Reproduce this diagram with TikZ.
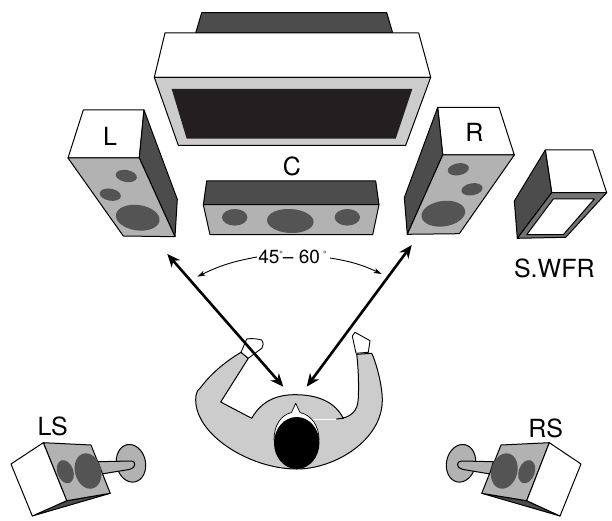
\documentclass[tikz,border=0pt]{standalone}
\usepackage{fontspec}
\setmainfont{TeX Gyre Heros}
\usetikzlibrary{arrows.meta}
\definecolor{dk}{gray}{0.30}
\definecolor{spk}{gray}{0.70}
\definecolor{cone}{gray}{0.33}
\definecolor{pale}{gray}{0.80}
\definecolor{scr}{HTML}{231F20}
\tikzset{
 outl/.style={draw=black,line width=1pt,line join=round},
 whiteface/.style={outl,fill=white},
 darkface/.style={outl,fill=dk},
 grayface/.style={outl,fill=spk},
 conefill/.style={fill=cone,draw=none},
 lab/.style={font=\fontsize{25}{25}\selectfont,inner sep=0pt},
 biglink/.style={line width=2.6pt,{Stealth[length=13pt,width=11pt,inset=4pt]}-{Stealth[length=13pt,width=11pt,inset=4pt]}},
 thinlink/.style={line width=0.9pt,-{Stealth[length=8pt,width=5pt,inset=2pt]}}
}
\begin{document}
\begin{tikzpicture}[x=1pt,y=-1pt]
\useasboundingbox (0,0) rectangle (612,521);
% TV
\draw[darkface] (201.7,12.7) -- (386.7,12.7) -- (392.7,33) -- (195.7,33) -- cycle;
\draw[whiteface] (165,33) -- (418.7,33) -- (430.7,77.3) -- (154.3,77.3) -- cycle;
\draw[outl,fill=pale] (154.3,77.3) -- (430.7,77.3) -- (405.7,145.3) -- (178.3,145.3) -- cycle;
\fill[scr] (171.7,89) -- (412.3,89) -- (395.7,138.7) -- (186.7,138.7) -- cycle;
% L
\draw[whiteface] (83.3,110) -- (144,110) -- (139.3,158) -- (68,158) -- cycle;
\draw[darkface] (144,110) -- (177.3,199.3) -- (175,236.7) -- (139.3,158) -- cycle;
\draw[grayface] (68,158) -- (139.3,158) -- (175,236.7) -- (123.3,236) -- cycle;
\fill[conefill,rotate around={-10:(126.3,176)}] (126.3,176) ellipse [x radius=10.7,y radius=6];
\fill[conefill,rotate around={-10:(110.3,194.7)}] (110.3,194.7) ellipse [x radius=10.7,y radius=6];
\fill[conefill,rotate around={-8:(137.7,217.7)}] (137.7,217.7) ellipse [x radius=22,y radius=12.7];
\node[lab] (labL) at (110,136.5) {L};
% C
\draw[darkface] (206.7,181) -- (375.7,181) -- (379,204.7) -- (203.3,204.7) -- cycle;
\draw[grayface] (203.3,204.7) -- (379,204.7) -- (372.7,234.7) -- (210,234.7) -- cycle;
\fill[conefill] (234.7,217.3) ellipse [x radius=12.7,y radius=8.3];
\fill[conefill,rotate around={-3:(290.3,221)}] (290.3,221) ellipse [x radius=23.3,y radius=12];
\fill[conefill] (347.3,217.3) ellipse [x radius=12.7,y radius=8.3];
\node[lab] (labC) at (292,166.5) {C};
% R
\draw[whiteface] (437.7,107.3) -- (499,107.3) -- (514.3,155) -- (442.7,155) -- cycle;
\draw[darkface] (437.7,107.3) -- (442.7,155) -- (407.3,234.3) -- (404.3,197.7) -- cycle;
\draw[grayface] (442.7,155) -- (514.3,155) -- (459.3,233.7) -- (407.3,234.3) -- cycle;
\fill[conefill,rotate around={10:(458.3,169.3)}] (458.3,169.3) ellipse [x radius=10.7,y radius=6];
\fill[conefill,rotate around={10:(472,189.3)}] (472,189.3) ellipse [x radius=10.7,y radius=6];
\fill[conefill,rotate around={8:(443.3,213.7)}] (443.3,213.7) ellipse [x radius=22,y radius=12.7];
\node[lab] (labR) at (474.3,132) {R};
% S.WFR
\draw[whiteface] (545.3,150) -- (592.7,150) -- (606.7,192.7) -- (551.7,192.7) -- cycle;
\draw[darkface] (545.3,150) -- (551.7,192.7) -- (517.3,238.3) -- (514.3,201) -- cycle;
\draw[outl,fill=black!55] (551.7,192.7) -- (606.7,192.7) -- (565.7,237.3) -- (517.3,238.3) -- cycle;
\draw[outl,fill=white] (553.3,199) -- (594.3,199) -- (563.3,234.7) -- (526.7,234.7) -- cycle;
\node[lab] (labS) at (554.3,268.3) {S.WFR};
% Person
\draw[outl,fill=pale] (248.3,358.3) -- (220.7,402) -- (251.7,418.3)
  .. controls (262,400) and (278,394.7) .. (295,394.7)
  .. controls (318,394.7) and (335,402) .. (343.3,418.3)
  -- (336.7,419)
  .. controls (350,418) and (358,412) .. (358.3,398)
  .. controls (359,380) and (358,365) .. (356.7,354.3)
  -- (371.7,353.3)
  .. controls (376,362) and (382.3,385) .. (382.3,400)
  .. controls (382.3,440) and (335,469) .. (296.7,469)
  .. controls (250,469) and (195.7,435) .. (195.7,400)
  .. controls (195.7,392) and (198,390) .. (200,388.3)
  .. controls (212,372) and (228,360) .. (241,352.3)
  -- cycle;
\draw[white,line width=1pt] (313,419) -- (336,419);
\draw[whiteface,line width=0.9pt] (241,352.3) -- (246.7,339) .. controls (252,338) and (258,339) .. (261.7,340) .. controls (264,343) and (263,346) .. (262,348) -- (248.3,358.3) -- cycle;
\draw[whiteface,line width=0.9pt] (356,353.3) -- (352.3,336) -- (355,332.3) -- (370,340.7) -- (368.3,352.3) -- cycle;
\draw[whiteface,line width=0.7pt] (274,440) .. controls (274,425) and (281,415) .. (291.5,412.5) -- (295.7,403.3) -- (300,412.5) .. controls (311,415) and (319,425) .. (319,440) -- cycle;
\fill[black] (296.7,443) ellipse [x radius=22.7,y radius=26];
% Arrows
\coordinate (lsEnd) at (167.3,254);
\coordinate (lpEnd) at (283.3,386.7);
\coordinate (rsEnd) at (411.7,245);
\coordinate (rpEnd) at (306.7,386.7);
\draw[biglink] (lsEnd) -- (lpEnd);
\draw[biglink] (rsEnd) -- (rpEnd);
% Angle
\node[inner sep=0pt,font=\fontsize{19}{19}\selectfont] (angle) at (292.5,257) {45\raisebox{6pt}{\fontsize{9}{9}\selectfont°}– 60\,\raisebox{6pt}{\fontsize{9}{9}\selectfont°}};
\coordinate (angL) at (197.3,276.7);
\coordinate (angR) at (381.7,274);
\draw[thinlink] (angle.west) ++(-1,0) to[bend right=8] (angL);
\draw[thinlink] (angle.east) ++(3,1) to[bend left=8] (angR);
% LS
\draw[outl,fill=spk,rotate around={12:(131,463.3)}] (131,463.3) ellipse [x radius=14.5,y radius=19];
\draw[outl,fill=spk] (98.3,461.7) -- (131.7,461) .. controls (136,461) and (136,468) .. (130,469.3) -- (101.7,474) -- cycle;
\draw[darkface] (32.3,516) -- (66.7,500.7) -- (110.3,493.3) -- cycle;
\draw[grayface] (43.3,442.7) -- (91,445) -- (110.3,493.3) -- (66.7,500.7) -- cycle;
\draw[whiteface] (43.3,442.7) -- (11,464) -- (32.3,516) -- (66.7,500.7) -- cycle;
\fill[conefill,rotate around={20:(65.3,471.7)}] (65.3,471.7) ellipse [x radius=8,y radius=12];
\fill[conefill,rotate around={15:(88,471)}] (88,471) ellipse [x radius=13,y radius=18];
\node[lab] (labLS) at (52.7,426) {LS};
% RS
\draw[outl,fill=spk,rotate around={-12:(461,463.3)}] (461,463.3) ellipse [x radius=14.5,y radius=19];
\draw[outl,fill=spk] (493.3,461.7) -- (461.7,461) .. controls (456,461) and (456,468) .. (462.3,469.3) -- (490,474) -- cycle;
\draw[darkface] (560,516) -- (526.7,500.7) -- (481.7,493.3) -- cycle;
\draw[grayface] (549.3,442.7) -- (501,445) -- (481.7,493.3) -- (526.7,500.7) -- cycle;
\draw[whiteface] (549.3,442.7) -- (581,464) -- (560,516) -- (526.7,500.7) -- cycle;
\fill[conefill,rotate around={-20:(526.7,471.7)}] (526.7,471.7) ellipse [x radius=8,y radius=12];
\fill[conefill,rotate around={-15:(504.3,471)}] (504.3,471) ellipse [x radius=13,y radius=18];
\node[lab] (labRS) at (545.7,428) {RS};
\end{tikzpicture}
\end{document}
